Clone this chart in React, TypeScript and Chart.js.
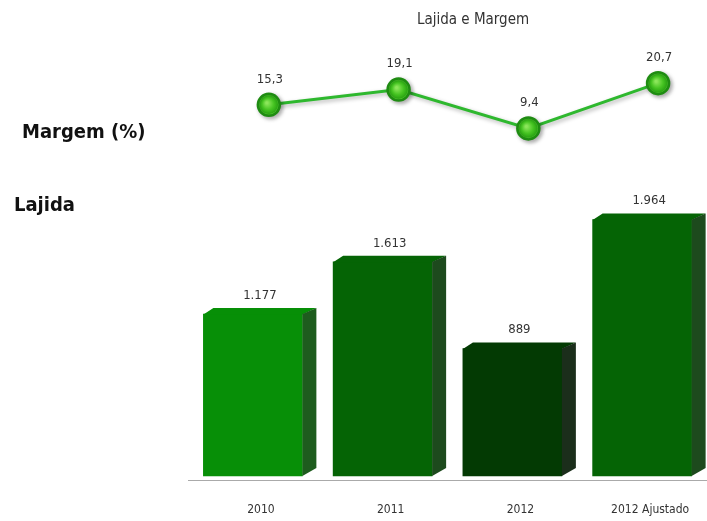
import React, { useEffect, useRef } from "react";
import { Chart, registerables } from "chart.js";

Chart.register(...registerables);

const categories = ["2010", "2011", "2012", "2012 Ajustado"];
const lajidaValues = [1177, 1613, 889, 1964];
const margemValues = [15.3, 19.1, 9.4, 20.7];
const frontColors = ["#078f07", "#056405", "#033a03", "#056405"];
const sideColors = ["#1e5c1e", "#1d4a1d", "#1b2e1b", "#1d4a1d"];

const title = "Lajida e Margem";
const leftLabelMargem = "Margem (%)";
const leftLabelLajida = "Lajida";

const FONT = '"DejaVu Sans Condensed", "Liberation Sans Narrow", "Liberation Sans", sans-serif';

function fmtInt(v: number) {
  return String(Math.round(v)).replace(/\B(?=(\d{3})+(?!\d))/g, ".");
}
function fmtDec(v: number) {
  return v.toFixed(1).replace(".", ",");
}

const bar3d = {
  id: "bar3d",
  afterDatasetsDraw(chart: any) {
    const ctx = chart.ctx;
    const meta = chart.getDatasetMeta(0);
    const dx = 14;
    const dy = 6;
    meta.data.forEach((el: any, i: number) => {
      const { x, y, base, width } = el.getProps(["x", "y", "base", "width"], true);
      const l = x - width / 2;
      const r = x + width / 2;
      ctx.save();
      // top face
      ctx.fillStyle = frontColors[i];
      ctx.beginPath();
      ctx.moveTo(l, y + 0.5);
      ctx.lineTo(l + 10, y - dy);
      ctx.lineTo(r + dx, y - dy);
      ctx.lineTo(r, y + 0.5);
      ctx.closePath();
      ctx.fill();
      // side face
      ctx.fillStyle = sideColors[i];
      ctx.beginPath();
      ctx.moveTo(r, y);
      ctx.lineTo(r + dx, y - dy);
      ctx.lineTo(r + dx, base - 8);
      ctx.lineTo(r, base);
      ctx.closePath();
      ctx.fill();
      // value label
      ctx.fillStyle = "#333";
      ctx.font = "13px " + FONT;
      ctx.textAlign = "center";
      ctx.textBaseline = "bottom";
      ctx.fillText(fmtInt(lajidaValues[i]), x + dx / 2, y - dy - 6);
      ctx.restore();
    });

    // line point highlight + labels
    const lmeta = chart.getDatasetMeta(1);
    ctx.save();
    lmeta.data.forEach((pt: any) => {
      const g = ctx.createRadialGradient(pt.x - 2, pt.y - 2, 1, pt.x, pt.y, 9);
      g.addColorStop(0, "#8be65a");
      g.addColorStop(0.6, "#46c422");
      g.addColorStop(1, "#2aa313");
      ctx.fillStyle = g;
      ctx.beginPath();
      ctx.arc(pt.x, pt.y, 9.2, 0, Math.PI * 2);
      ctx.fill();
    });
    ctx.fillStyle = "#333";
    ctx.font = "13px " + FONT;
    ctx.textAlign = "center";
    ctx.textBaseline = "bottom";
    lmeta.data.forEach((pt: any, i: number) => {
      ctx.fillText(fmtDec(margemValues[i]), pt.x + 1, pt.y - 19);
    });
    ctx.restore();

    // title and side labels
    ctx.save();
    ctx.fillStyle = "#333";
    ctx.font = "15px " + FONT;
    ctx.textAlign = "center";
    ctx.textBaseline = "middle";
    ctx.fillText(title, 473, 20);
    ctx.fillStyle = "#111";
    ctx.font = "bold 20px " + FONT;
    ctx.textAlign = "left";
    ctx.fillText(leftLabelMargem, 22, 133);
    ctx.fillText(leftLabelLajida, 14, 206);
    ctx.restore();
  },
};

const shadowPlugin = {
  id: "pointShadow",
  beforeDatasetDraw(chart: any, args: any) {
    if (args.index === 1) {
      const ctx = chart.ctx;
      ctx.save();
      ctx.shadowColor = "rgba(0,0,0,0.3)";
      ctx.shadowBlur = 4;
      ctx.shadowOffsetX = 2;
      ctx.shadowOffsetY = 2;
    }
  },
  afterDatasetDraw(chart: any, args: any) {
    if (args.index === 1) chart.ctx.restore();
  },
};

export default function App() {
  const ref = useRef<HTMLCanvasElement | null>(null);
  useEffect(() => {
    if (!ref.current) return;
    const chart = new Chart(ref.current, {
      type: "bar",
      data: {
        labels: categories,
        datasets: [
          {
            type: "bar",
            label: "Lajida",
            data: lajidaValues,
            backgroundColor: frontColors,
            borderWidth: 0,
            barThickness: 99,
            grouped: false,
            base: -173,
            xAxisID: "x",
            yAxisID: "y",
            order: 2,
          } as any,
          {
            type: "line",
            label: "Margem",
            data: margemValues.map((v, i) => ({ x: i, y: v })),
            borderColor: "#2eb82e",
            borderWidth: 3,
            pointRadius: 11,
            pointBorderWidth: 2.5,
            pointBackgroundColor: "#4cc72a",
            pointBorderColor: "#1f8c12",
            xAxisID: "xl",
            yAxisID: "yl",
            order: 1,
          } as any,
        ],
      },
      options: {
        animation: false,
        responsive: true,
        maintainAspectRatio: false,
        layout: { autoPadding: false, padding: { left: 188, right: 0, top: 0, bottom: 0 } },
        plugins: {
          legend: { display: false },
          title: { display: false },
          tooltip: { enabled: false },
        },
        scales: {
          x: {
            type: "category",
            offset: true,
            grid: { display: false, drawTicks: true, tickLength: 23 },
            border: { display: true, color: "#aaa", width: 1 },
            ticks: {
              color: "#333",
              font: { size: 12, family: FONT },
              labelOffset: 8,
              padding: 0,
              maxRotation: 0,
            },
            afterFit: (s: any) => {
              s.height = 41;
              s.paddingLeft = 0;
              s.paddingRight = 0;
            },
          },
          xl: {
            type: "linear",
            display: false,
            offset: false,
            grid: { offset: false },
            min: -0.623,
            max: 3.377,
          },
          y: {
            type: "linear",
            display: false,
            min: -206,
            max: 3794,
          },
          yl: {
            type: "linear",
            display: false,
            min: -78.5,
            max: 41.5,
          },
        },
      } as any,
      plugins: [bar3d, shadowPlugin],
    });
    return () => chart.destroy();
  }, []);
  return (
    <div style={{ position: "fixed", left: 0, top: 0, width: 707, height: 521, background: "#fff" }}>
      <canvas ref={ref} />
    </div>
  );
}
